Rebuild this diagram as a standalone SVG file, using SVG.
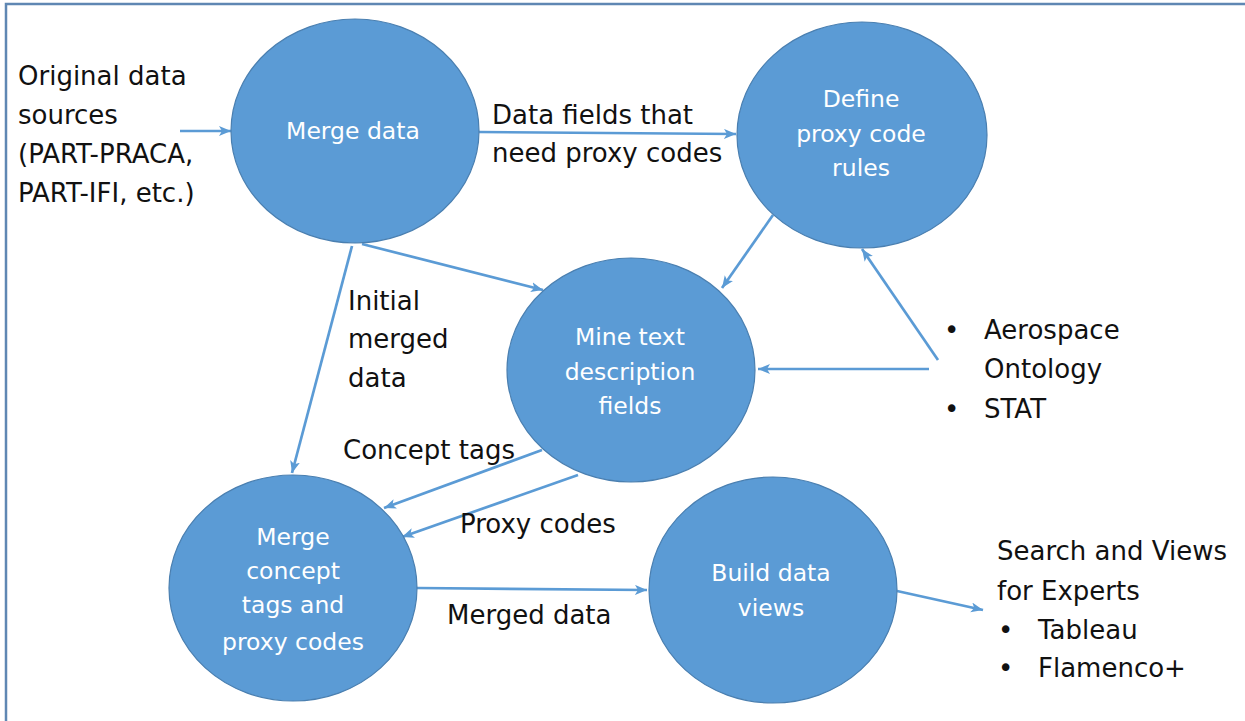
<svg xmlns="http://www.w3.org/2000/svg" width="1245" height="721" viewBox="0 0 1245 721">
<defs>
<marker id="ah" markerUnits="userSpaceOnUse" markerWidth="14" markerHeight="12" refX="12" refY="5" orient="auto">
<path d="M0,0 L12,5 L0,10 L3,5 Z" fill="#5B9BD5"/>
</marker>
<style>
.node{fill:#5B9BD5;stroke:#4a7fb0;stroke-width:1.2}
.nt{font-family:"DejaVu Sans","Liberation Sans",sans-serif;font-size:23.5px;fill:#ffffff;text-anchor:middle}
.lb{font-family:"DejaVu Sans","Liberation Sans",sans-serif;font-size:26px;fill:#111111}
.cn line{stroke:#5B9BD5;stroke-width:2.7;marker-end:url(#ah)}
</style>
</defs>
<rect x="6" y="4" width="1260" height="740" fill="#ffffff" stroke="#5f87b3" stroke-width="2.5"/>
<g id="connectors" class="cn">
<line x1="180" y1="131" x2="231" y2="131"/>
<line x1="479" y1="132" x2="736" y2="134"/>
<line x1="362" y1="244" x2="543" y2="290"/>
<line x1="352" y1="246" x2="292" y2="473"/>
<line x1="773" y1="215" x2="722" y2="288"/>
<line x1="938" y1="360" x2="862" y2="249"/>
<line x1="929" y1="369" x2="758" y2="369"/>
<line x1="542" y1="450" x2="384" y2="508"/>
<line x1="578" y1="475" x2="402" y2="537"/>
<line x1="417" y1="588" x2="647" y2="590"/>
<line x1="897" y1="591" x2="983" y2="610"/>
</g>
<g id="merge-data">
<ellipse class="node" cx="355" cy="131" rx="124" ry="112"/>
<text class="nt" x="353" y="139">Merge data</text>
</g>
<g id="define-proxy">
<ellipse class="node" cx="862" cy="135" rx="125" ry="113"/>
<text class="nt" x="861" y="107">Define</text>
<text class="nt" x="861" y="142">proxy code</text>
<text class="nt" x="861" y="176">rules</text>
</g>
<g id="mine-text">
<ellipse class="node" cx="631" cy="370" rx="124" ry="112"/>
<text class="nt" x="630" y="345">Mine text</text>
<text class="nt" x="630" y="380">description</text>
<text class="nt" x="630" y="414">fields</text>
</g>
<g id="merge-concept">
<ellipse class="node" cx="293" cy="588" rx="124" ry="113"/>
<text class="nt" x="293" y="545">Merge</text>
<text class="nt" x="293" y="579">concept</text>
<text class="nt" x="293" y="613">tags and</text>
<text class="nt" x="293" y="650">proxy codes</text>
</g>
<g id="build-views">
<ellipse class="node" cx="773" cy="590" rx="124" ry="113"/>
<text class="nt" x="771" y="581">Build data</text>
<text class="nt" x="771" y="616">views</text>
</g>
<g id="labels">
<text class="lb" x="18" y="85">Original data</text>
<text class="lb" x="18" y="124">sources</text>
<text class="lb" x="18" y="163">(PART-PRACA,</text>
<text class="lb" x="18" y="202">PART-IFI, etc.)</text>
<text class="lb" x="492" y="124">Data fields that</text>
<text class="lb" x="492" y="162">need proxy codes</text>
<text class="lb" x="348" y="310">Initial</text>
<text class="lb" x="348" y="348">merged</text>
<text class="lb" x="348" y="387">data</text>
<text class="lb" x="343" y="459">Concept tags</text>
<text class="lb" x="460" y="533">Proxy codes</text>
<text class="lb" x="447" y="624">Merged data</text>
<text class="lb" x="944" y="339">•</text>
<text class="lb" x="984" y="339">Aerospace</text>
<text class="lb" x="984" y="378">Ontology</text>
<text class="lb" x="944" y="418">•</text>
<text class="lb" x="984" y="418">STAT</text>
<text class="lb" x="997" y="560">Search and Views</text>
<text class="lb" x="997" y="600">for Experts</text>
<text class="lb" x="998" y="639">•</text>
<text class="lb" x="1038" y="639">Tableau</text>
<text class="lb" x="998" y="677">•</text>
<text class="lb" x="1038" y="677">Flamenco+</text>
</g>
</svg>
